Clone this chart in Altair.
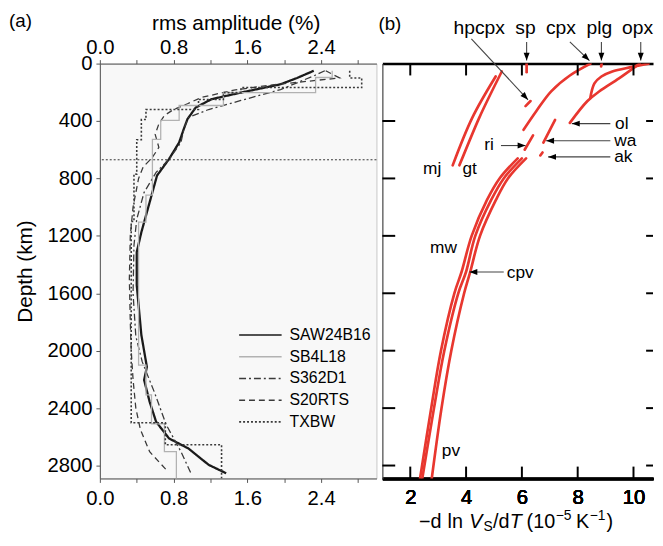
import altair as alt
import pandas as pd

FONT = "Liberation Sans"
RED = "#e8372f"

# ---------------- panel (a): rms amplitude of tomographic models ----------------
models = ["SAW24B16", "SB4L18", "S362D1", "S20RTS", "TXBW"]
model_colors = ["#1a1a1a", "#b2b2b2", "#3a3a3a", "#3a3a3a", "#3a3a3a"]
model_dashes = [[1, 0], [1, 0], [7, 3, 2, 3], [6, 4], [2, 2]]

saw_depth = [50, 100, 144, 202, 248, 306, 387, 456, 549, 665, 780, 966, 1175, 1313, 1543,
             1890, 2113, 2204, 2356, 2495, 2611, 2681, 2795, 2854]
saw_rms = [2.32, 2.14, 1.96, 1.53, 1.21, 1.04, 0.95, 0.91, 0.86, 0.75, 0.62, 0.54, 0.45, 0.40, 0.40,
           0.45, 0.51, 0.48, 0.54, 0.61, 0.75, 0.96, 1.18, 1.37]

s362_depth = [50, 83, 181, 257, 320, 375, 459, 549, 667, 758, 897, 1084, 1265, 1600, 1900,
              2078, 2287, 2516, 2704, 2857]
s362_rms = [2.44, 2.33, 1.96, 1.53, 1.18, 0.96, 0.91, 0.88, 0.75, 0.61, 0.48, 0.40, 0.37, 0.36, 0.39,
            0.46, 0.59, 0.72, 0.88, 0.99]

s20_depth = [50, 100, 120, 150, 183, 236, 280, 320, 361, 420, 493, 584, 653, 720, 800, 1000, 1200,
             1500, 1800, 2000, 2200, 2400, 2550, 2704, 2829]
s20_rms = [2.45, 2.60, 2.30, 1.85, 1.47, 1.10, 0.95, 0.80, 0.70, 0.64, 0.60, 0.64, 0.57, 0.47, 0.42,
           0.36, 0.33, 0.32, 0.33, 0.34, 0.36, 0.39, 0.44, 0.54, 0.72]

sb4_top = [50, 97, 202, 292, 396, 528, 917, 1105, 2100, 2307, 2509, 2703]
sb4_bottom = [97, 202, 292, 396, 528, 917, 1105, 2100, 2307, 2509, 2703, 2891]
sb4_rms = [2.52, 2.34, 1.34, 0.86, 0.66, 0.57, 0.50, 0.42, 0.50, 0.56, 0.70, 0.83]

txbw_top = [50, 100, 167, 202, 250, 320, 390, 530, 770, 1100, 2502, 2655]
txbw_bottom = [100, 167, 202, 250, 320, 390, 530, 770, 1100, 2502, 2655, 2891]
txbw_rms = [2.71, 2.84, 1.53, 1.34, 1.07, 0.50, 0.45, 0.40, 0.37, 0.34, 0.71, 1.32]

transition_depth = [670]
rms_ticks = [0, 0.4, 0.8, 1.2, 1.6, 2.0, 2.4, 2.8]
depth_ticks = [0, 400, 800, 1200, 1600, 2000, 2400, 2800]

# ---------------- panel (b): -dlnVs/dT of mantle minerals ----------------
mj_depth, mj_x = [90, 378, 709], [5.06, 4.22, 3.52]
gt_depth, gt_x = [55, 378, 709], [5.28, 4.47, 3.76]
sp_depth, sp_x = [0, 60], [6.17, 6.17]
plg_depth, plg_x = [0, 20], [8.86, 8.84]
hpcpx_depth, hpcpx_x = [261, 296], [6.31, 6.13]
cpx_depth, cpx_x = [0, 83, 193, 330, 461], [8.46, 7.72, 7.05, 6.52, 6.06]
opx_depth, opx_x = [0, 25, 55, 90, 138, 241], [10.54, 9.90, 9.24, 8.85, 8.60, 8.45]
ol_depth, ol_x = [0, 103, 193, 261, 413], [10.22, 9.48, 8.78, 8.35, 7.72]
wa_depth, wa_x = [392, 550], [7.19, 6.77]
ri_depth, ri_x = [500, 600], [6.40, 6.10]
ak_depth, ak_x = [619, 640], [6.74, 6.66]
lm_depth = [660, 800, 950, 1200, 1450, 1600, 2000, 2400, 2890]
mw_x = [5.85, 5.20, 4.75, 4.20, 3.84, 3.58, 3.10, 2.75, 2.35]
cpv_x = [6.00, 5.35, 4.90, 4.33, 4.00, 3.72, 3.22, 2.85, 2.43]
pv_x = [6.15, 5.50, 5.07, 4.50, 4.15, 3.93, 3.47, 3.12, 2.77]
dv_ticks = [2, 4, 6, 8, 10]

# labels: (text, x value, depth)
top_labels = ["hpcpx", "sp", "cpx", "plg"]
top_label_x = [4.47, 6.13, 7.40, 8.78]
top_label_depth = -206
side_labels = ["ol", "wa", "ak", "ri", "mj", "gt", "mw", "cpv", "pv"]
side_label_x = [9.34, 9.31, 9.31, 4.65, 2.46, 3.87, 2.71, 5.46, 3.13]
side_label_depth = [454, 571, 688, 605, 770, 770, 1321, 1493, 2731]

# arrows: start (x, depth) -> tip (x, depth)
arrow_x1 = [4.19, 6.17, 7.72, 8.85, 10.26, 9.17, 9.17, 9.17, 5.25, 5.35]
arrow_d1 = [-172, -151, -151, -151, -151, 418, 537, 650, 571, 1452]
arrow_x2 = [6.22, 6.17, 8.42, 8.85, 10.26, 7.79, 6.87, 6.94, 6.13, 4.12]
arrow_d2 = [252, -21, -21, -21, -21, 418, 537, 650, 571, 1452]
arrow_angle = [137, 180, 134, 180, 180, 270, 270, 270, 90, 270]

# ---------------- tables ----------------
rows = []
for name, d, v in [("SAW24B16", saw_depth, saw_rms), ("S362D1", s362_depth, s362_rms),
                   ("S20RTS", s20_depth, s20_rms)]:
    for i, (dd, vv) in enumerate(zip(d, v)):
        rows.append({"model": name, "depth": dd, "rms": vv, "i": i})
smooth_df = pd.DataFrame(rows)

rows = []
for name, tops, bots, vals in [("SB4L18", sb4_top, sb4_bottom, sb4_rms),
                               ("TXBW", txbw_top, txbw_bottom, txbw_rms)]:
    k = 0
    for t, b, v in zip(tops, bots, vals):
        rows.append({"model": name, "depth": t, "rms": v, "i": k}); k += 1
        rows.append({"model": name, "depth": b, "rms": v, "i": k}); k += 1
step_df = pd.DataFrame(rows)

rows = []
for name, d, x in [("mj", mj_depth, mj_x), ("gt", gt_depth, gt_x), ("sp", sp_depth, sp_x),
                   ("plg", plg_depth, plg_x), ("hpcpx", hpcpx_depth, hpcpx_x),
                   ("cpx", cpx_depth, cpx_x), ("opx", opx_depth, opx_x), ("ol", ol_depth, ol_x),
                   ("wa", wa_depth, wa_x), ("ri", ri_depth, ri_x), ("ak", ak_depth, ak_x),
                   ("mw", lm_depth, mw_x), ("cpv", lm_depth, cpv_x), ("pv", lm_depth, pv_x)]:
    for i, (dd, xx) in enumerate(zip(d, x)):
        rows.append({"name": name, "depth": dd, "dv": xx, "i": i})
red_df = pd.DataFrame(rows)

top_lab_df = pd.DataFrame({"t": top_labels, "dv": top_label_x, "depth": [top_label_depth] * 4})
side_lab_df = pd.DataFrame({"t": side_labels, "dv": side_label_x, "depth": side_label_depth})
opx_lab_df = pd.DataFrame({"t": ["opx"], "dv": [10.7], "depth": [top_label_depth]})
arrow_df = pd.DataFrame({"x1": arrow_x1, "d1": arrow_d1, "x2": arrow_x2, "d2": arrow_d2,
                         "ang": arrow_angle})

# ---------------- geometry / scales / axes ----------------
W_A, W_B, H = 280, 274, 420
xA = alt.Scale(domain=[0, 3.0], nice=False, zero=False)
xB = alt.Scale(domain=[1, 10.7], nice=False, zero=False)
yD = alt.Scale(domain=[0, 2890], reverse=True, nice=False, zero=False)

label_expr = "round(datum.value*10) % 8 == 0 ? format(datum.value, '.1f') : ''"
ax_grey = dict(domainColor="#555", tickColor="#555", grid=False)

xA_bottom = alt.Axis(orient="bottom", values=rms_ticks, labelExpr=label_expr, labelFontSize=20.5,
                     tickSize=4, labelPadding=6, title=None, **ax_grey)
xA_top = alt.Axis(orient="top", values=rms_ticks, labelExpr=label_expr, labelFontSize=20.5,
                  tickSize=4, labelPadding=2, title=None, **ax_grey)
yA_axis = alt.Axis(orient="left", values=depth_ticks, format="d", title="Depth (km)", titleFontSize=21,
                   labelFontSize=20.5, tickSize=4, labelPadding=4, titlePadding=12, **ax_grey)

xB_bottom = alt.Axis(orient="bottom", values=dv_ticks, labelFontSize=20.5, ticks=True, tickSize=0,
                     labelPadding=9, domainColor="black", domainWidth=2.5, title=None, grid=False)
xB_top = alt.Axis(orient="top", labels=False, ticks=False, domainColor="black",
                  domainWidth=2.5, title=None, grid=False)
yB_axis = alt.Axis(orient="left", labels=False, ticks=False, domainColor="#444",
                   domainWidth=1.2, title=None, grid=False)

leg = alt.Legend(title=None, orient="none", legendX=140, legendY=264, symbolType="stroke",
                 symbolSize=1849, symbolStrokeWidth=1.6, labelFontSize=16, labelOffset=7,
                 clipHeight=21.5, rowPadding=0, padding=0, labelLimit=0)
color_enc = alt.Color("model:N", scale=alt.Scale(domain=models, range=model_colors), legend=leg)
dash_enc = alt.StrokeDash("model:N", scale=alt.Scale(domain=models, range=model_dashes), legend=leg)
width_val = alt.value(1.3, condition=[{"test": "datum.model == 'SAW24B16'", "value": 2.3},
                                      {"test": "datum.model == 'TXBW'", "value": 1.6}])

# ---------------- panel (a) ----------------
smooth = alt.Chart(smooth_df).mark_line(clip=True).encode(
    x=alt.X("rms:Q", scale=xA, axis=xA_bottom),
    y=alt.Y("depth:Q", scale=yD, axis=yA_axis),
    color=color_enc, strokeDash=dash_enc, strokeWidth=width_val, order="i:Q")

steps = alt.Chart(step_df).mark_line(clip=True).encode(
    x=alt.X("rms:Q", scale=xA, axis=xA_top),
    y=alt.Y("depth:Q", scale=yD, axis=yA_axis),
    color=color_enc, strokeDash=dash_enc, strokeWidth=width_val, order="i:Q")

d670 = alt.Chart(pd.DataFrame({"depth": transition_depth})).mark_rule(
    strokeDash=[2, 2], color="#333", strokeWidth=1).encode(
    y=alt.Y("depth:Q", scale=yD, axis=yA_axis))

lab_a = alt.Chart(pd.DataFrame({"t": ["(a)"]})).mark_text(
    align="left", baseline="top", fontSize=19, color="black").encode(
    text="t:N", x=alt.value(-92), y=alt.value(-52))

title_a = alt.Chart(pd.DataFrame({"t": ["rms amplitude (%)"]})).mark_text(
    align="center", baseline="alphabetic", fontSize=21, color="black").encode(
    text="t:N", x=alt.value(W_A / 2 - 2), y=alt.value(-34.5))

panel_a = alt.layer(smooth, steps, d670, lab_a, title_a).properties(
    width=W_A, height=H, view=alt.ViewBackground(fill="#f8f8f8", stroke="#c8c8c8"))

# ---------------- panel (b) ----------------
red = alt.Chart(red_df).mark_line(color=RED, strokeWidth=2.7, strokeCap="round",
                                  interpolate="catmull-rom", clip=True).encode(
    x=alt.X("dv:Q", scale=xB, axis=xB_bottom),
    y=alt.Y("depth:Q", scale=yD, axis=yB_axis),
    detail="name:N", order="i:Q")

tick_df = pd.DataFrame({"dv": dv_ticks})
dtick_df = pd.DataFrame({"depth": depth_ticks[1:]})
top_ticks = alt.Chart(tick_df).mark_rule(color="black", strokeWidth=2).encode(
    x=alt.X("dv:Q", scale=xB, axis=xB_top), y=alt.value(0), y2=alt.value(12))
bot_ticks = alt.Chart(tick_df).mark_rule(color="black", strokeWidth=2).encode(
    x=alt.X("dv:Q", scale=xB, axis=xB_bottom), y=alt.value(H - 12), y2=alt.value(H))
left_ticks = alt.Chart(dtick_df).mark_rule(color="black", strokeWidth=2).encode(
    y=alt.Y("depth:Q", scale=yD, axis=yB_axis), x=alt.value(0), x2=alt.value(13))
right_ticks = alt.Chart(dtick_df).mark_rule(color="black", strokeWidth=2).encode(
    y=alt.Y("depth:Q", scale=yD, axis=yB_axis), x=alt.value(W_B - 7), x2=alt.value(W_B))

arrows = alt.Chart(arrow_df).mark_rule(color="#444", strokeWidth=1.1).encode(
    x=alt.X("x1:Q", scale=xB, axis=xB_bottom), x2="x2:Q",
    y=alt.Y("d1:Q", scale=yD, axis=yB_axis), y2="d2:Q")
heads = alt.Chart(arrow_df).mark_point(shape="M0,0L0.75,2L-0.75,2Z", filled=True, size=64,
                                       color="black", opacity=1, strokeWidth=0).encode(
    x=alt.X("x2:Q", scale=xB, axis=xB_bottom), y=alt.Y("d2:Q", scale=yD, axis=yB_axis),
    angle=alt.Angle("ang:Q", scale=None))

top_txt = alt.Chart(top_lab_df).mark_text(align="center", fontSize=19.5, color="black",
                                          baseline="alphabetic").encode(
    x=alt.X("dv:Q", scale=xB, axis=xB_bottom), y=alt.Y("depth:Q", scale=yD, axis=yB_axis), text="t:N")
opx_txt = alt.Chart(opx_lab_df).mark_text(align="right", fontSize=19.5, color="black",
                                          baseline="alphabetic").encode(
    x=alt.X("dv:Q", scale=xB, axis=xB_bottom), y=alt.Y("depth:Q", scale=yD, axis=yB_axis), text="t:N")
side_txt = alt.Chart(side_lab_df).mark_text(align="left", fontSize=17.5, color="black",
                                            baseline="alphabetic").encode(
    x=alt.X("dv:Q", scale=xB, axis=xB_bottom), y=alt.Y("depth:Q", scale=yD, axis=yB_axis), text="t:N")

lab_b = alt.Chart(pd.DataFrame({"t": ["(b)"]})).mark_text(
    align="left", baseline="top", fontSize=19, color="black").encode(
    text="t:N", x=alt.value(-4), y=alt.value(-49))

# composite x-axis title: −d ln V_S/dT (10^−5 K^−1)
title_parts = ["−d", "ln", "V", "S", "/d", "T", "(10", "−5", "K", "−1", ")"]
title_style = ["normal", "normal", "italic", "normal", "normal", "italic", "normal", "normal",
               "normal", "normal", "normal"]
title_size = [20, 20, 20, 14, 20, 20, 20, 14, 20, 14, 20]
title_left = [37, 66, 88, 102.5, 112, 129, 146, 175.5, 196, 210, 227]
title_base = [50, 50, 50, 53, 50, 50, 50, 42, 50, 42, 50]
title_layers = []
for t, st, fs, xl, yb in zip(title_parts, title_style, title_size, title_left, title_base):
    title_layers.append(
        alt.Chart(pd.DataFrame({"t": [t]})).mark_text(
            align="left", baseline="alphabetic", fontSize=fs, fontStyle=st, color="black").encode(
            text="t:N", x=alt.value(xl), y=alt.value(H + yb)))

panel_b = alt.layer(red, top_ticks, bot_ticks, left_ticks, right_ticks, arrows, heads,
                    top_txt, opx_txt, side_txt, lab_b, *title_layers).properties(
    width=W_B, height=H, view=alt.ViewBackground(fill="white", stroke="transparent"))

chart = alt.hconcat(panel_a, panel_b, spacing=6, bounds="flush").properties(
    padding=0
).configure(font=FONT).configure_axis(
    labelFont=FONT, titleFont=FONT, labelColor="black", titleColor="black",
    titleFontWeight="normal", labelFlush=False, labelOverlap=False
).configure_legend(labelFont=FONT, labelColor="black").configure_text(font=FONT)

chart.save("out.html", embed_options={"renderer": "svg", "actions": False})
